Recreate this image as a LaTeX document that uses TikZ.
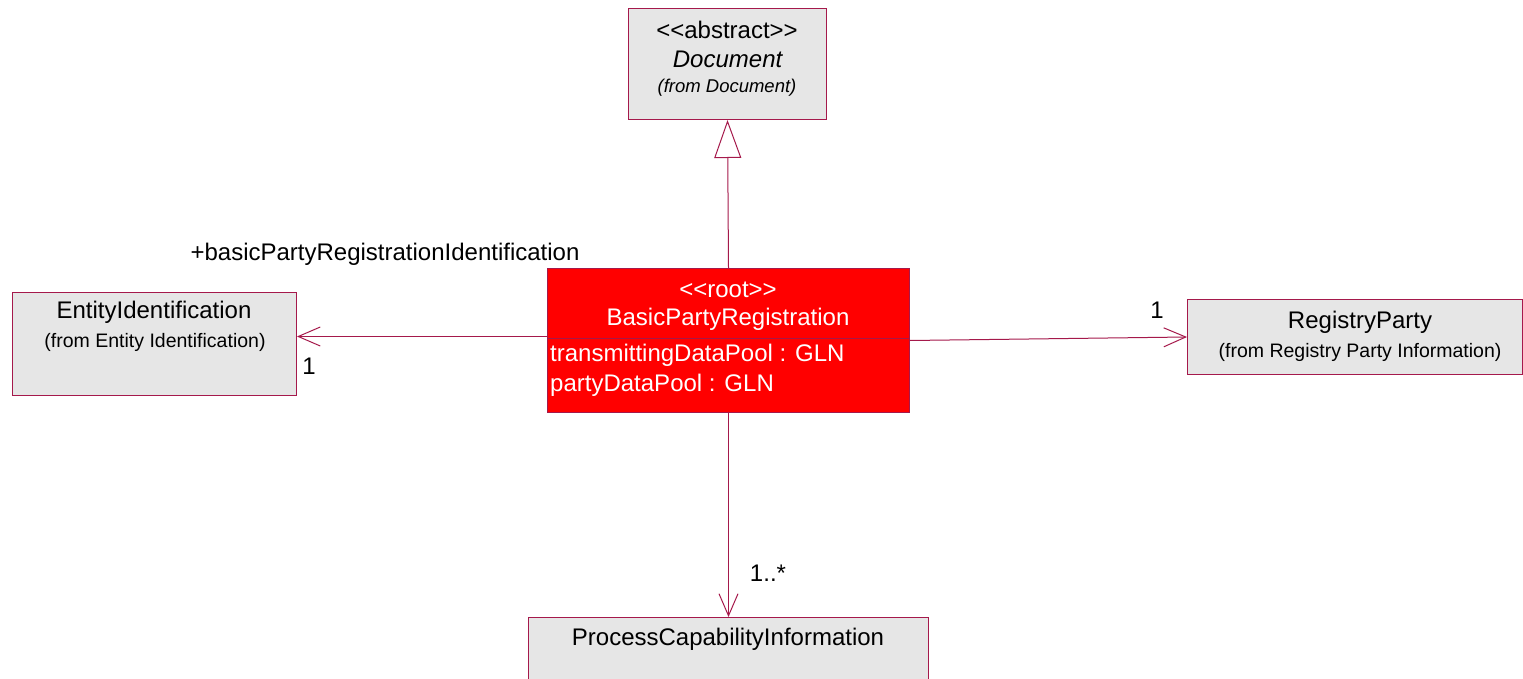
\documentclass[tikz,border=0pt]{standalone}
\usepackage{fontspec}
\setmainfont{Liberation Sans}
\usetikzlibrary{arrows.meta}
\definecolor{umlborder}{RGB}{165,25,75}
\definecolor{umlfill}{RGB}{230,230,230}
\definecolor{rootfill}{RGB}{255,0,0}
\newcommand{\stereo}[1]{\mbox{<}\mbox{<}#1\mbox{>}\mbox{>}}
\tikzset{
 classbox/.style={draw=umlborder, fill=umlfill, line width=1pt, anchor=north west, inner sep=0pt},
 rootbox/.style={classbox, fill=rootfill},
 bigtxt/.style={font=\fontsize{24}{28}\selectfont},
 smalltxt/.style={font=\fontsize{19.5}{23}\selectfont},
 assoc/.style={draw=umlborder, line width=1pt, -{Straight Barb[length=22pt,width=19pt]}},
 inherit/.style={draw=umlborder, line width=1pt, -{Triangle[open,length=38pt,width=27pt,fill=white]}}
}

\begin{document}
\begin{tikzpicture}[x=1pt,y=-1pt]
\useasboundingbox (0,0) rectangle (1523,679);
\clip (0,0) rectangle (1523,679);
% boxes
\node[classbox, minimum width=198pt, minimum height=111pt] (doc) at (628,8) {};
\node[rootbox, minimum width=362pt, minimum height=144pt] (root) at (547,268) {};
\node[classbox, minimum width=284pt, minimum height=103pt] (entity) at (12,292) {};
\node[classbox, minimum width=335pt, minimum height=75pt] (registry) at (1187,299) {};
\node[classbox, minimum width=400pt, minimum height=90pt] (process) at (528,617) {};
\draw[umlborder, line width=1pt] ([yshift=-70pt]root.north west) -- ([yshift=-70pt]root.north east);
% texts
\node[bigtxt] (docst) at (727,30) {\stereo{abstract}};
\node[bigtxt] (docname) at (728,59) {\textit{Document}};
\node[font=\fontsize{18.5}{22}\selectfont] (docfrom) at (727,88) {\textit{(from Document)}};
\node[bigtxt, text=white] (rootst) at (728,290) {\stereo{root}};
\node[bigtxt, text=white] (rootname) at (728,319) {BasicPartyRegistration};
\node[bigtxt, text=white, anchor=west, inner sep=0pt] (attr1) at (550,355) {transmittingDataPool : GLN};
\node[bigtxt, text=white, anchor=west, inner sep=0pt] (attr2) at (550,385) {partyDataPool : GLN};
\node[bigtxt] (entityname) at (154,312) {EntityIdentification};
\node[smalltxt] (entityfrom) at (155,342) {(from Entity Identification)};
\node[bigtxt] (registryname) at (1360,322) {RegistryParty};
\node[smalltxt] (registryfrom) at (1360,352) {(from Registry Party Information)};
\node[bigtxt] (processname) at (728,639) {ProcessCapabilityInformation};
% connectors
\draw[inherit] (root.north) -- (doc.south);
\draw[assoc] ([yshift=4pt]root.west) -- ([yshift=4pt]root.west -| entity.east);
\draw[assoc] (root.east) -- (registry.west);
\draw[assoc] (root.south) -- (process.north);
% role and multiplicities
\node[bigtxt] (rolename) at (385,254) {+basicPartyRegistrationIdentification};
\node[bigtxt] (multentity) at (309,366) {1};
\node[bigtxt] (multregistry) at (1157,310) {1};
\node[bigtxt] (multprocess) at (768,573) {1..*};
\end{tikzpicture}
\end{document}
